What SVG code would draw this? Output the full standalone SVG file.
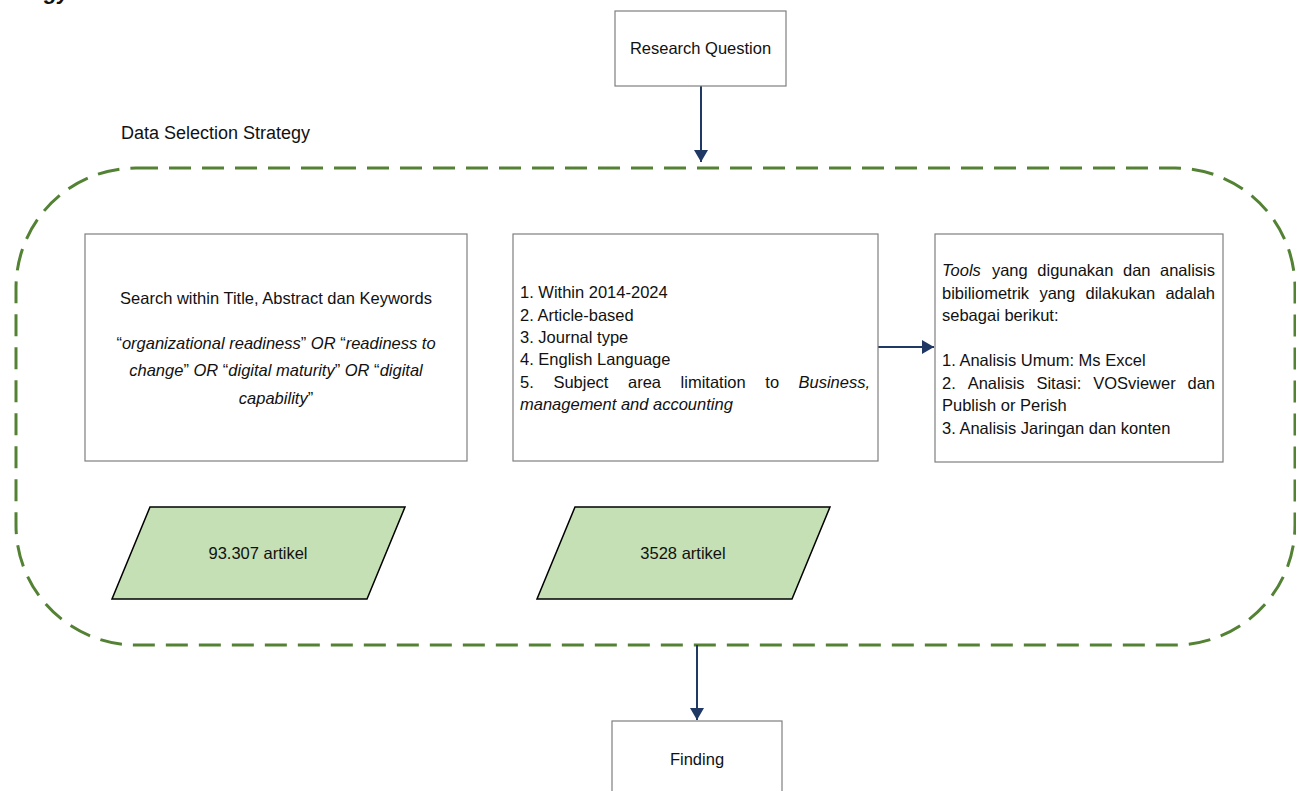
<svg xmlns="http://www.w3.org/2000/svg" width="1296" height="791" viewBox="0 0 1296 791">
<defs>
<style>
.t{font-family:"Liberation Sans",Arial,sans-serif;font-size:16.5px;fill:#111;}
.i{font-style:italic;}
.box{fill:#fff;stroke:#7f7f7f;stroke-width:1.2;}
.para{fill:#c5e0b4;stroke:#000;stroke-width:1.5;}
.conn{stroke:#203864;stroke-width:2;fill:none;}
</style>
<marker id="ah" viewBox="0 0 12 14" refX="12" refY="7" markerWidth="12" markerHeight="14" markerUnits="userSpaceOnUse" orient="auto">
<path d="M0,0 L12,7 L0,14 Z" fill="#203864"/>
</marker>
</defs>
<rect width="1296" height="791" fill="#fff"/>
<text x="44" y="-1" style="font-family:'Liberation Sans',Arial,sans-serif;font-size:22px;font-weight:bold;font-style:italic;fill:#111">gy</text>

<g id="data-selection-strategy">
<rect x="16" y="168" width="1279" height="477" rx="120" ry="120" fill="none" stroke="#548235" stroke-width="3" stroke-dasharray="22 11"/>
<text x="121" y="139" style="font-family:'Liberation Sans',Arial,sans-serif;font-size:18px;fill:#111">Data Selection Strategy</text>
</g>

<g id="connectors">
<line class="conn" x1="701" y1="86" x2="701" y2="162" marker-end="url(#ah)"/>
<line class="conn" x1="878" y1="347" x2="934" y2="347" marker-end="url(#ah)"/>
<line class="conn" x1="697" y1="645" x2="697" y2="720" marker-end="url(#ah)"/>
</g>

<g id="research-question">
<rect class="box" x="615" y="11" width="171" height="75"/>
<text class="t" x="700.5" y="54" text-anchor="middle">Research Question</text>
</g>

<g id="search-box">
<rect class="box" x="85" y="234" width="382" height="227"/>
<text class="t" x="276" y="304" text-anchor="middle">Search within Title, Abstract dan Keywords</text>
<text class="t" x="276" y="349" text-anchor="middle">“<tspan class="i">organizational readiness</tspan>” <tspan class="i">OR</tspan> “<tspan class="i">readiness to</tspan></text>
<text class="t" x="276" y="376" text-anchor="middle"><tspan class="i">change</tspan>” <tspan class="i">OR</tspan> “<tspan class="i">digital maturity</tspan>” <tspan class="i">OR</tspan> “<tspan class="i">digital</tspan></text>
<text class="t" x="276" y="404" text-anchor="middle"><tspan class="i">capability</tspan>”</text>
</g>

<g id="criteria-box">
<rect class="box" x="513" y="234" width="365" height="227"/>
<text class="t" x="520" y="298">1. Within 2014-2024</text>
<text class="t" x="520" y="321">2. Article-based</text>
<text class="t" x="520" y="343">3. Journal type</text>
<text class="t" x="520" y="365">4. English Language</text>
<text class="t" y="388"><tspan x="520">5.</tspan><tspan x="553.4">Subject</tspan><tspan x="628">area</tspan><tspan x="680.6">limitation</tspan><tspan x="765.3">to</tspan></text>
<text class="t i" x="870" y="388" text-anchor="end">Business,</text>
<text class="t i" x="520" y="410">management and accounting</text>
</g>

<g id="tools-box">
<rect class="box" x="935" y="234" width="288" height="228"/>
<text class="t" y="276"><tspan class="i" x="942">Tools</tspan><tspan x="991.9">yang</tspan><tspan x="1037.3">digunakan</tspan><tspan x="1123">dan</tspan></text>
<text class="t" x="1215" y="276" text-anchor="end">analisis</text>
<text class="t" y="299"><tspan x="942">bibiliometrik</tspan><tspan x="1039.4">yang</tspan><tspan x="1085.5">dilakukan</tspan></text>
<text class="t" x="1215" y="299" text-anchor="end">adalah</text>
<text class="t" x="942" y="321">sebagai berikut:</text>
<text class="t" x="942" y="366">1. Analisis Umum: Ms Excel</text>
<text class="t" y="389"><tspan x="942">2.</tspan><tspan x="967.7">Analisis</tspan><tspan x="1036.4">Sitasi:</tspan><tspan x="1093.2">VOSviewer</tspan></text>
<text class="t" x="1215" y="389" text-anchor="end">dan</text>
<text class="t" x="942" y="411">Publish or Perish</text>
<text class="t" x="942" y="434">3. Analisis Jaringan dan konten</text>
</g>

<g id="result-93307">
<polygon class="para" points="150,507 405,507 367,599 112,599"/>
<text class="t" x="258" y="559" text-anchor="middle">93.307 artikel</text>
</g>

<g id="result-3528">
<polygon class="para" points="575,507 830,507 792,599 537,599"/>
<text class="t" x="683" y="559" text-anchor="middle">3528 artikel</text>
</g>

<g id="finding">
<rect class="box" x="612" y="721" width="170" height="90"/>
<text class="t" x="697" y="765" text-anchor="middle">Finding</text>
</g>
</svg>
